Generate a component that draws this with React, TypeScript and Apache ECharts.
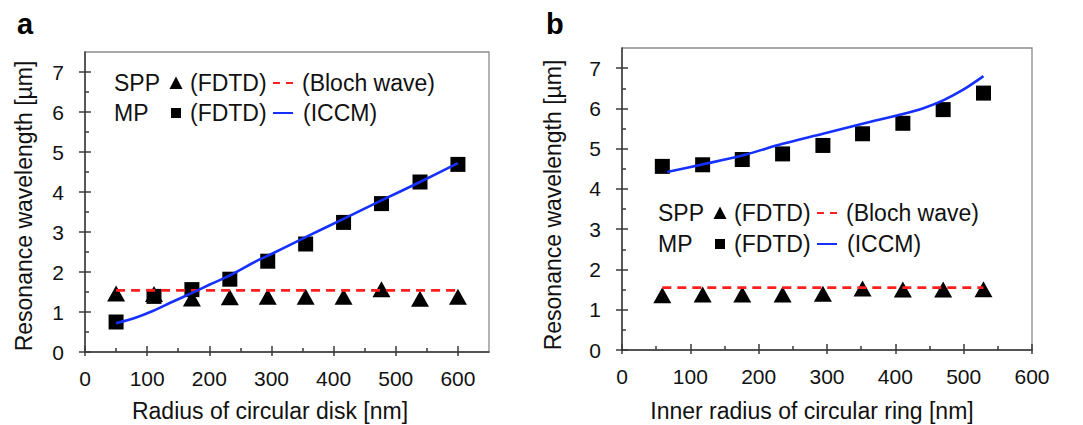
import React, { useEffect, useRef } from "react";
import * as echarts from "echarts";

// ---- Panel a data ----
const xA = [50, 111, 172, 233, 294, 355, 416, 477, 539, 600];
const sppA = [1.46, 1.45, 1.34, 1.37, 1.38, 1.38, 1.38, 1.57, 1.33, 1.38];
const mpA = [0.75, 1.39, 1.56, 1.82, 2.27, 2.7, 3.24, 3.71, 4.25, 4.69];
const iccmAx = [50, 80, 110, 140, 174, 200, 234, 278, 300, 355, 416, 477, 539, 600];
const iccmAy = [0.72, 0.85, 1.03, 1.25, 1.49, 1.68, 1.92, 2.29, 2.45, 2.87, 3.33, 3.79, 4.25, 4.72];
const blochAx = [50, 600];
const blochAy = [1.54, 1.54];

// ---- Panel b data ----
const xB = [59, 118, 176, 235, 294, 352, 411, 470, 529];
const sppB = [1.36, 1.38, 1.38, 1.38, 1.4, 1.53, 1.5, 1.5, 1.51];
const mpB = [4.56, 4.6, 4.73, 4.87, 5.08, 5.37, 5.63, 5.97, 6.38];
const iccmBx = [66, 118, 176, 235, 294, 352, 411, 440, 470, 500, 529];
const iccmBy = [4.42, 4.61, 4.83, 5.12, 5.37, 5.62, 5.86, 6.0, 6.2, 6.47, 6.8];
const blochBx = [59, 529];
const blochBy = [1.55, 1.55];

// ---- Axis ticks ----
const xTicks = [0, 100, 200, 300, 400, 500, 600];
const xMinorA = [50, 150, 250, 350, 450, 550];
const xMinorB = [50, 150, 250, 350, 450, 550];
const yTicks = [0, 1, 2, 3, 4, 5, 6, 7];
const yMinor = [0.5, 1.5, 2.5, 3.5, 4.5, 5.5, 6.5];

const FONT = "'Liberation Sans', Arial, sans-serif";
const AXIS_COLOR = "#3a3a3a";
const TEXT_COLOR = "#111";
const RED = "#ff1f1f";
const BLUE = "#1530ff";

const pairs = (xs: number[], ys: number[]) => xs.map((x, i) => [x, ys[i]]);

function xAxes(grid: number, max: number, minor: number[]) {
  return [
    {
      gridIndex: grid, type: "value", min: 0, max, position: "bottom", interval: 100,
      axisLine: { show: true, onZero: false, lineStyle: { color: AXIS_COLOR, width: 1.5 } },
      axisTick: { show: true, inside: false, length: 4, customValues: xTicks, lineStyle: { color: AXIS_COLOR, width: 1.5 } },
      axisLabel: { show: true, customValues: xTicks, margin: 16, fontSize: 21, color: TEXT_COLOR, fontFamily: FONT,
        formatter: (v: number) => (v > 600 ? "" : String(v)) },
      splitLine: { show: false },
    },
    {
      gridIndex: grid, type: "value", min: 0, max, position: "bottom", interval: 100,
      axisLine: { show: false, onZero: false },
      axisTick: { show: true, inside: true, length: 6, customValues: xTicks, lineStyle: { color: AXIS_COLOR, width: 1.5 } },
      axisLabel: { show: false },
      splitLine: { show: false },
    },
    {
      gridIndex: grid, type: "value", min: 0, max, position: "bottom", interval: 100,
      axisLine: { show: false, onZero: false },
      axisTick: { show: true, inside: true, length: 4, customValues: minor, lineStyle: { color: AXIS_COLOR, width: 1.5 } },
      axisLabel: { show: false },
      splitLine: { show: false },
    },
  ];
}

function yAxes(grid: number) {
  return [
    {
      gridIndex: grid, type: "value", min: 0, max: 7.5, position: "left", interval: 1,
      axisLine: { show: true, onZero: false, lineStyle: { color: AXIS_COLOR, width: 1.5 } },
      axisTick: { show: true, inside: false, length: 6, customValues: yTicks, lineStyle: { color: AXIS_COLOR, width: 1.5 } },
      axisLabel: { show: true, customValues: yTicks, margin: 21, fontSize: 21, color: TEXT_COLOR, fontFamily: FONT,
        formatter: (v: number) => (Number.isInteger(v) ? String(v) : "") },
      splitLine: { show: false },
    },
    {
      gridIndex: grid, type: "value", min: 0, max: 7.5, position: "left", interval: 1,
      axisLine: { show: false, onZero: false },
      axisTick: { show: true, inside: true, length: 6, customValues: yTicks, lineStyle: { color: AXIS_COLOR, width: 1.5 } },
      axisLabel: { show: false },
      splitLine: { show: false },
    },
    {
      gridIndex: grid, type: "value", min: 0, max: 7.5, position: "left", interval: 1,
      axisLine: { show: false, onZero: false },
      axisTick: { show: true, inside: true, length: 4, customValues: yMinor, lineStyle: { color: AXIS_COLOR, width: 1.5 } },
      axisLabel: { show: false },
      splitLine: { show: false },
    },
  ];
}

function seriesFor(xi: number, yi: number, bloch: number[][], iccm: number[][], spp: number[][], mp: number[][]) {
  return [
    {
      type: "line", xAxisIndex: xi, yAxisIndex: yi, data: bloch, symbol: "none",
      lineStyle: { color: RED, width: 2.6, type: [9, 6] },
    },
    {
      type: "line", xAxisIndex: xi, yAxisIndex: yi, data: iccm, symbol: "none", smooth: 0.3,
      lineStyle: { color: BLUE, width: 2.6 },
    },
    {
      type: "scatter", xAxisIndex: xi, yAxisIndex: yi, data: spp, symbol: "triangle", symbolSize: [18, 16],
      itemStyle: { color: "#000", opacity: 1 },
    },
    {
      type: "scatter", xAxisIndex: xi, yAxisIndex: yi, data: mp, symbol: "rect", symbolSize: 15,
      itemStyle: { color: "#000", opacity: 1 },
    },
  ];
}

function legendGraphics(x0: number, y1: number, y2: number) {
  const t = (text: string, x: number, y: number) => ({
    type: "text", x, y,
    style: { text, fill: TEXT_COLOR, font: `23px ${FONT}`, textAlign: "left", textVerticalAlign: "middle" },
  });
  const tx = x0 + 62; // triangle / square centre
  return [
    t("SPP", x0, y1),
    { type: "polygon", shape: { points: [[tx - 6.5, y1 + 6], [tx + 6.5, y1 + 6], [tx, y1 - 6.5]] }, style: { fill: "#000" } },
    t("(FDTD)", x0 + 76, y1),
    { type: "line", shape: { x1: x0 + 159, y1: y1, x2: x0 + 179, y2: y1 }, style: { stroke: RED, lineWidth: 2, lineDash: [7, 6] } },
    t("(Bloch wave)", x0 + 188, y1),
    t("MP", x0, y2),
    { type: "rect", shape: { x: tx - 5, y: y2 - 5, width: 10, height: 10 }, style: { fill: "#000" } },
    t("(FDTD)", x0 + 76, y2),
    { type: "line", shape: { x1: x0 + 159, y1: y2, x2: x0 + 179, y2: y2 }, style: { stroke: BLUE, lineWidth: 2 } },
    t("(ICCM)", x0 + 189, y2),
  ];
}

export default function App() {
  const ref = useRef<HTMLDivElement>(null);
  useEffect(() => {
    if (!ref.current) return;
    const chart = echarts.init(ref.current, undefined, { renderer: "svg" });
    const option: any = {
      animation: false,
      backgroundColor: "#fff",
      grid: [
        { left: 85, top: 52, width: 404, height: 300, show: true, borderColor: "#8a8a8a", borderWidth: 1.3, backgroundColor: "transparent" },
        { left: 622, top: 48, width: 410, height: 302, show: true, borderColor: "#8a8a8a", borderWidth: 1.3, backgroundColor: "transparent" },
      ],
      xAxis: [...xAxes(0, 650, xMinorA), ...xAxes(1, 600, xMinorB)],
      yAxis: [...yAxes(0), ...yAxes(1)],
      series: [
        ...seriesFor(0, 0, pairs(blochAx, blochAy), pairs(iccmAx, iccmAy), pairs(xA, sppA), pairs(xA, mpA)),
        ...seriesFor(3, 3, pairs(blochBx, blochBy), pairs(iccmBx, iccmBy), pairs(xB, sppB), pairs(xB, mpB)),
      ],
      graphic: [
        { type: "text", x: 17, y: 24, style: { text: "a", fill: "#000", font: "bold 29px 'Liberation Sans', Arial, sans-serif", textAlign: "left", textVerticalAlign: "middle" } },
        { type: "text", x: 546, y: 24, style: { text: "b", fill: "#000", font: "bold 29px 'Liberation Sans', Arial, sans-serif", textAlign: "left", textVerticalAlign: "middle" } },
        { type: "text", x: 270, y: 411, style: { text: "Radius of circular disk [nm]", fill: TEXT_COLOR, font: `23px ${FONT}`, textAlign: "center", textVerticalAlign: "middle" } },
        { type: "text", x: 812, y: 411, style: { text: "Inner radius of circular ring [nm]", fill: TEXT_COLOR, font: `23px ${FONT}`, textAlign: "center", textVerticalAlign: "middle" } },
        { type: "text", x: 24, y: 206, rotation: Math.PI / 2, style: { text: "Resonance wavelength [µm]", fill: TEXT_COLOR, font: `23px ${FONT}`, textAlign: "center", textVerticalAlign: "middle" } },
        { type: "text", x: 553, y: 205, rotation: Math.PI / 2, style: { text: "Resonance wavelength [µm]", fill: TEXT_COLOR, font: `23px ${FONT}`, textAlign: "center", textVerticalAlign: "middle" } },
        ...legendGraphics(114, 83, 113),
        ...legendGraphics(658, 213, 244),
      ],
    };
    chart.setOption(option);
    return () => chart.dispose();
  }, []);
  return (
    <div
      ref={ref}
      style={{ position: "absolute", left: 0, top: 0, width: 1083, height: 425, background: "#fff" }}
    />
  );
}
